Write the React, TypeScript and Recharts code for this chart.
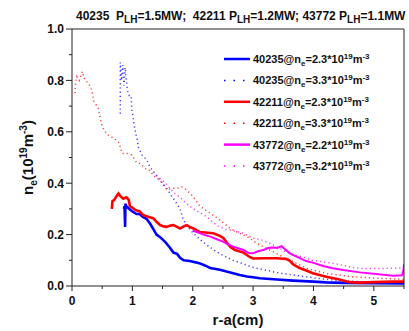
import { LineChart, Line, XAxis, YAxis } from 'recharts'

type Pt = [number, number]

// r-a (cm), n_e (1e19 m^-3)
const s40235a: Pt[] = [
  [0.86, 0.3], [0.87, 0.31], [0.88, 0.23], [0.885, 0.32], [0.9, 0.31], [0.95, 0.3], [1.0, 0.29],
  [1.07, 0.28], [1.12, 0.28], [1.17, 0.27], [1.24, 0.26], [1.3, 0.24], [1.35, 0.22], [1.4, 0.2],
  [1.46, 0.19], [1.55, 0.17], [1.62, 0.15], [1.68, 0.13], [1.74, 0.125], [1.79, 0.11], [1.85, 0.1],
  [1.95, 0.097], [2.05, 0.092], [2.12, 0.088], [2.2, 0.08], [2.29, 0.07], [2.45, 0.063], [2.56, 0.056],
  [2.67, 0.05], [2.78, 0.043], [2.9, 0.037], [3.0, 0.034], [3.11, 0.03], [3.4, 0.025], [3.66, 0.021],
  [4.0, 0.017], [4.21, 0.014], [4.5, 0.012], [5.0, 0.011], [5.5, 0.01],
]
const s40235b: Pt[] = [
  [0.8, 0.67], [0.8, 0.87], [0.82, 0.8], [0.84, 0.86], [0.86, 0.78], [0.88, 0.85], [0.9, 0.8],
  [0.92, 0.76], [0.95, 0.74], [0.98, 0.74], [0.99, 0.69], [1.02, 0.64], [1.05, 0.6], [1.08, 0.57],
  [1.1, 0.54], [1.16, 0.51], [1.24, 0.49], [1.3, 0.46], [1.4, 0.43], [1.5, 0.4], [1.57, 0.38],
  [1.65, 0.35], [1.71, 0.33], [1.79, 0.3], [1.84, 0.26], [1.92, 0.23], [2.01, 0.205], [2.15, 0.175],
  [2.29, 0.15], [2.45, 0.125], [2.67, 0.1], [2.85, 0.085], [3.0, 0.072], [3.2, 0.062], [3.4, 0.052],
  [3.66, 0.043], [3.9, 0.035], [4.21, 0.026], [4.5, 0.02], [4.77, 0.017], [5.1, 0.016], [5.5, 0.015],
]
const s42211a: Pt[] = [
  [0.66, 0.3], [0.67, 0.33], [0.7, 0.335], [0.74, 0.35], [0.77, 0.36], [0.8, 0.35], [0.85, 0.34],
  [0.9, 0.345], [0.94, 0.335], [0.96, 0.31], [1.0, 0.305], [1.05, 0.296], [1.12, 0.29], [1.18, 0.276],
  [1.25, 0.27], [1.35, 0.263], [1.4, 0.25], [1.46, 0.237], [1.52, 0.232], [1.57, 0.23], [1.63, 0.235],
  [1.68, 0.237], [1.74, 0.23], [1.79, 0.224], [1.85, 0.232], [1.9, 0.237], [1.95, 0.23], [2.01, 0.224],
  [2.12, 0.21], [2.25, 0.207], [2.34, 0.205], [2.45, 0.195], [2.51, 0.186], [2.56, 0.17], [2.62, 0.153],
  [2.7, 0.14], [2.84, 0.13], [2.95, 0.112], [3.0, 0.107], [3.2, 0.108], [3.39, 0.108], [3.55, 0.105],
  [3.61, 0.098], [3.66, 0.085], [3.77, 0.07], [3.88, 0.06], [3.99, 0.05], [4.21, 0.036], [4.43, 0.025],
  [4.6, 0.015], [4.77, 0.013], [5.0, 0.015], [5.32, 0.017], [5.5, 0.017],
]
const s42211b: Pt[] = [
  [0.05, 0.75], [0.06, 0.79], [0.08, 0.815], [0.12, 0.8], [0.17, 0.835], [0.2, 0.81], [0.22, 0.8],
  [0.27, 0.79], [0.33, 0.76], [0.36, 0.72], [0.44, 0.69], [0.47, 0.65], [0.5, 0.62], [0.58, 0.59],
  [0.69, 0.575], [0.77, 0.56], [0.8, 0.54], [0.83, 0.516], [0.91, 0.516], [0.99, 0.51], [1.07, 0.48],
  [1.13, 0.477], [1.24, 0.451], [1.29, 0.45], [1.35, 0.43], [1.46, 0.41], [1.57, 0.375], [1.66, 0.38],
  [1.74, 0.38], [1.82, 0.385], [1.9, 0.374], [2.01, 0.347], [2.12, 0.31], [2.29, 0.283], [2.45, 0.257],
  [2.62, 0.224], [2.78, 0.205], [2.95, 0.186], [3.06, 0.166], [3.22, 0.147], [3.44, 0.12], [3.66, 0.095],
  [3.88, 0.069], [4.21, 0.049], [4.65, 0.036], [5.1, 0.03], [5.5, 0.026],
]
const s43772a: Pt[] = [
  [2.0, 0.215], [2.07, 0.21], [2.18, 0.2], [2.29, 0.192], [2.4, 0.182], [2.51, 0.172], [2.6, 0.16],
  [2.67, 0.153], [2.78, 0.145], [2.84, 0.14], [2.93, 0.128], [3.0, 0.127], [3.08, 0.135], [3.17, 0.14],
  [3.25, 0.148], [3.33, 0.15], [3.4, 0.148], [3.47, 0.155], [3.52, 0.145], [3.61, 0.127], [3.72, 0.114],
  [3.88, 0.097], [4.0, 0.09], [4.16, 0.078], [4.3, 0.07], [4.49, 0.062], [4.77, 0.053], [5.04, 0.047],
  [5.2, 0.043], [5.32, 0.04], [5.47, 0.042], [5.49, 0.06], [5.5, 0.085],
]
const s43772b: Pt[] = [
  [1.4, 0.43], [1.55, 0.4], [1.7, 0.36], [1.79, 0.345], [1.9, 0.32], [2.01, 0.3], [2.12, 0.285],
  [2.23, 0.27], [2.4, 0.235], [2.55, 0.22], [2.67, 0.215], [2.84, 0.205], [3.0, 0.186], [3.14, 0.179],
  [3.28, 0.166], [3.45, 0.145], [3.66, 0.12], [3.8, 0.115], [3.97, 0.1], [4.13, 0.095], [4.4, 0.085],
  [4.65, 0.072], [4.82, 0.068], [5.0, 0.068], [5.32, 0.069], [5.5, 0.07],
]

const shots = ['40235', '40235', '42211', '42211', '43772', '43772']
const densities = ['2.3', '3.3', '2.3', '3.3', '2.2', '3.2']
const colors = ['#0000ff', '#0000ff', '#ff0000', '#ff0000', '#ff00ff', '#ff00ff']
const dotted = [false, true, false, true, false, true]
const seriesData = [s40235a, s40235b, s42211a, s42211b, s43772a, s43772b]

const xTicks = [0, 0.5, 1, 1.5, 2, 2.5, 3, 3.5, 4, 4.5, 5, 5.5]
const yTicks = [0, 0.1, 0.2, 0.3, 0.4, 0.5, 0.6, 0.7, 0.8, 0.9, 1.0]

const W = 409
const H = 331
const PL = 72
const PR = 404
const PT = 29
const PB = 286
const FONT = '"Liberation Sans", Arial, sans-serif'
const AXIS = '#222'

const isMajorX = (v: number) => Math.abs(v - Math.round(v)) < 1e-6
const isMajorY = (v: number) => Math.round(v * 10) % 2 === 0

function BottomTick(p: any) {
  const v = p.payload.value
  const major = isMajorX(v)
  return (
    <g>
      <line x1={p.x} x2={p.x} y1={PB} y2={PB + (major ? 5 : 3)} stroke={AXIS} />
      {major && (
        <text x={p.x} y={PB + 19} textAnchor="middle" fontSize={12} fontWeight="bold" fontFamily={FONT} fill="#111">
          {v}
        </text>
      )}
    </g>
  )
}

function LeftTick(p: any) {
  const v = p.payload.value
  const major = isMajorY(v)
  return (
    <g>
      <line x1={PL - (major ? 6 : 3)} x2={PL} y1={p.y} y2={p.y} stroke={AXIS} />
      {major && (
        <text x={PL - 8} y={p.y + 4.3} textAnchor="end" fontSize={12} fontWeight="bold" fontFamily={FONT} fill="#111">
          {v.toFixed(1)}
        </text>
      )}
    </g>
  )
}

function TopTick(p: any) {
  const major = isMajorX(p.payload.value)
  return <line x1={p.x} x2={p.x} y1={PT} y2={PT + (major ? 4 : 2)} stroke={AXIS} />
}

function RightTick(p: any) {
  const major = isMajorY(p.payload.value)
  return <line x1={PR - (major ? 4 : 2)} x2={PR} y1={p.y} y2={p.y} stroke={AXIS} />
}

function Overlay() {
  const legendTop = 59
  const legendStep = 21.4
  return (
    <svg width={W} height={H} style={{ position: 'absolute', left: 0, top: 0, pointerEvents: 'none' }}>
      <text x={76} y={20} fontSize={12} fontWeight="bold" fontFamily={FONT} fill="#111" style={{ whiteSpace: 'pre' }}>
        40235  P<tspan dy={3} fontSize={10}>LH</tspan>
        <tspan dy={-3}>=1.5MW;  42211 P</tspan>
        <tspan dy={3} fontSize={10}>LH</tspan>
        <tspan dy={-3}>=1.2MW; 43772 P</tspan>
        <tspan dy={3} fontSize={10}>LH</tspan>
        <tspan dy={-3}>=1.1MW</tspan>
      </text>
      <text x={(PL + PR) / 2} y={325} textAnchor="middle" fontSize={15} fontWeight="bold" fontFamily={FONT} fill="#111">
        r-a(cm)
      </text>
      <text transform={`translate(33,${(PT + PB) / 2}) rotate(-90)`} textAnchor="middle" fontSize={15} fontWeight="bold" fontFamily={FONT} fill="#111">
        n<tspan dy={4} fontSize={10}>e</tspan>
        <tspan dy={-4}>(10</tspan>
        <tspan dy={-6} fontSize={10}>19</tspan>
        <tspan dy={6}>m</tspan>
        <tspan dy={-6} fontSize={10}>-3</tspan>
        <tspan dy={6}>)</tspan>
      </text>
      {shots.map((shot, i) => {
        const y = legendTop + i * legendStep
        return (
          <g key={i}>
            <line
              x1={224}
              x2={250}
              y1={y}
              y2={y}
              stroke={colors[i]}
              strokeWidth={dotted[i] ? 1.5 : 2.5}
              strokeDasharray={dotted[i] ? '1.5 8' : undefined}
            />
            <text x={253} y={y + 4} fontSize={11} fontWeight="bold" fontFamily={FONT} fill="#111">
              {shot}@n<tspan dy={3} fontSize={8}>e</tspan>
              <tspan dy={-3}>={densities[i]}*10</tspan>
              <tspan dy={-4} fontSize={8}>19</tspan>
              <tspan dy={4}>m</tspan>
              <tspan dy={-4} fontSize={8}>-3</tspan>
            </text>
          </g>
        )
      })}
    </svg>
  )
}

export default function App() {
  return (
    <div style={{ position: 'absolute', left: 0, top: 0, width: W, height: H, background: '#fff' }}>
      <LineChart width={W} height={H} margin={{ top: PT - 1, right: W - PR - 1, bottom: H - PB - 1, left: PL - 1 }}>
        <XAxis
          xAxisId="b"
          type="number"
          dataKey="x"
          domain={[0, 5.5]}
          ticks={xTicks}
          interval={0}
          height={1}
          allowDataOverflow
          axisLine={{ stroke: AXIS }}
          tickLine={false}
          tick={<BottomTick />}
        />
        <XAxis
          xAxisId="t"
          orientation="top"
          type="number"
          dataKey="x"
          domain={[0, 5.5]}
          ticks={xTicks}
          interval={0}
          height={1}
          axisLine={{ stroke: AXIS }}
          tickLine={false}
          tick={<TopTick />}
        />
        <YAxis
          yAxisId="l"
          type="number"
          domain={[0, 1]}
          ticks={yTicks}
          interval={0}
          width={1}
          allowDataOverflow
          axisLine={{ stroke: AXIS }}
          tickLine={false}
          tick={<LeftTick />}
        />
        <YAxis
          yAxisId="r"
          orientation="right"
          type="number"
          domain={[0, 1]}
          ticks={yTicks}
          interval={0}
          width={1}
          axisLine={{ stroke: AXIS }}
          tickLine={false}
          tick={<RightTick />}
        />
        {seriesData.map((d, i) => (
          <Line
            key={i}
            xAxisId="b"
            yAxisId="l"
            data={d.map(([x, y]) => ({ x, y }))}
            dataKey="y"
            type="linear"
            stroke={colors[i]}
            strokeWidth={dotted[i] ? 1.5 : i === 4 ? 2 : 2.6}
            strokeDasharray={dotted[i] ? '1.2 3' : undefined}
            strokeOpacity={dotted[i] ? 0.75 : 1}
            dot={false}
            isAnimationActive={false}
          />
        ))}
      </LineChart>
      <Overlay />
    </div>
  )
}
